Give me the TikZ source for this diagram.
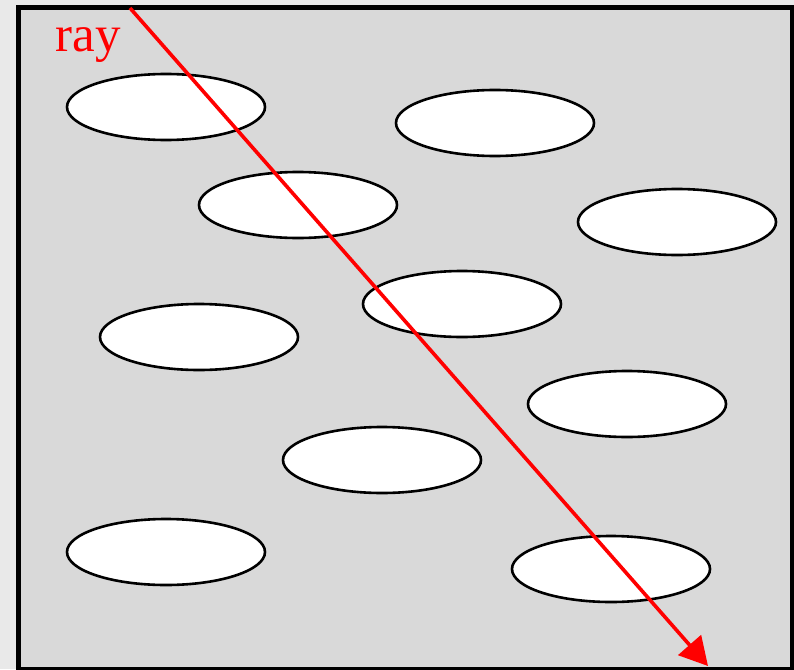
\documentclass[tikz,border=0pt]{standalone}
\usepackage{fontspec}
\setmainfont{Liberation Serif}
\usetikzlibrary{arrows.meta}
\begin{document}
\begin{tikzpicture}[x=1pt,y=-1pt,
  grain/.style={draw=black,fill=white,line width=2.6pt},
  raypath/.style={draw=red,line width=3.6pt,-{Triangle[length=28pt,width=30pt]}}]
  \useasboundingbox (0,0) rectangle (794,669);
  % page background
  \fill[fill={rgb,255:red,233;green,233;blue,233}] (0,0) rectangle (794,669);
  % medium
  \filldraw[fill={rgb,255:red,217;green,217;blue,217},draw=black,line width=5pt] (18,7.5) rectangle (792.5,669);
  % scattering grains
  \foreach \cx/\cy in {166/107,495/123,298/205,677/222,462/304,199/337,627/404,382/460,166/552,611/569}
    \draw[grain] (\cx,\cy) ellipse [x radius=99, y radius=33];
  % the ray
  \coordinate (rs) at (130,8);
  \coordinate (re) at (708,666);
  \draw[raypath] (rs) -- (re);
  \node[text=red,font=\fontsize{51}{51}\selectfont,anchor=base,inner sep=0pt] (lbl) at (88,52) {ray};
\end{tikzpicture}
\end{document}
